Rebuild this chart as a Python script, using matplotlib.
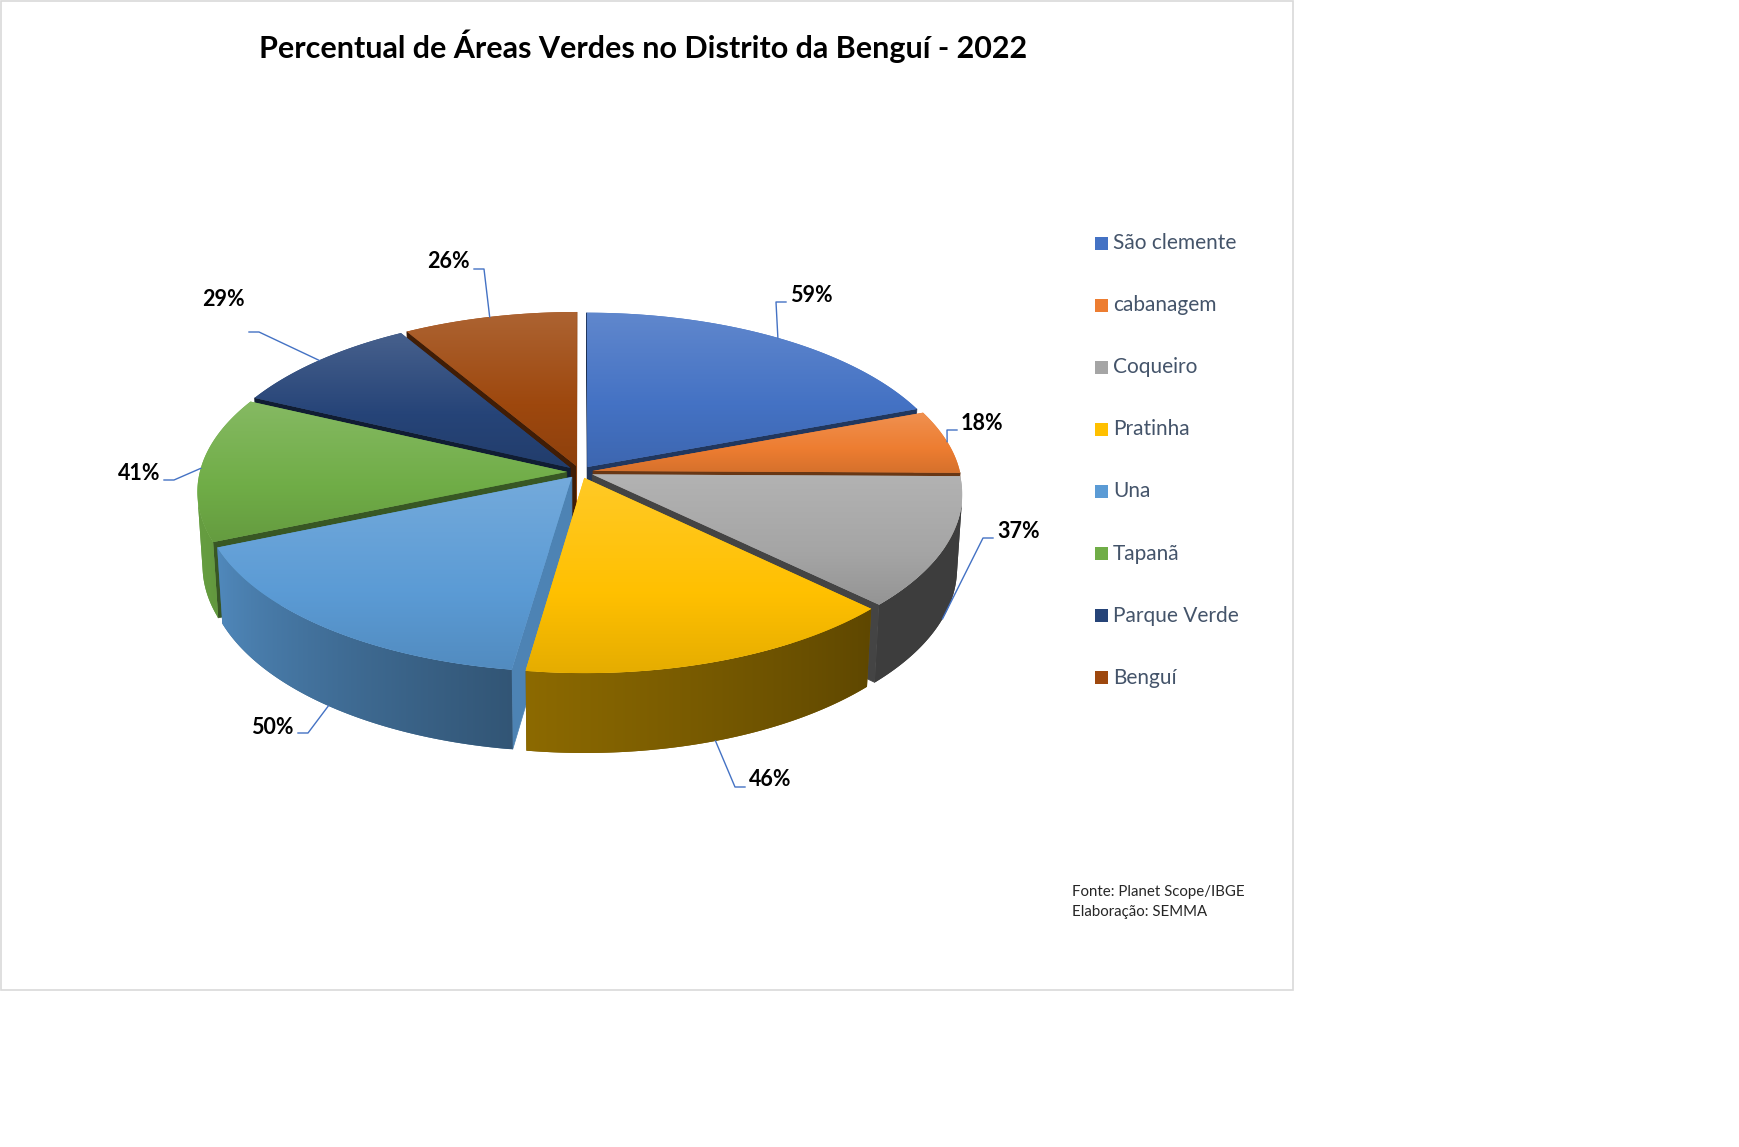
import numpy as np
import matplotlib.pyplot as plt
from matplotlib.patches import Polygon, Rectangle
from matplotlib.colors import to_rgb

plt.rcParams['font.family'] = ['Lato', 'DejaVu Sans']

titulo = 'Percentual de Áreas Verdes no Distrito da Benguí - 2022'
bairros = ['São clemente', 'cabanagem', 'Coqueiro', 'Pratinha', 'Una', 'Tapanã', 'Parque Verde', 'Benguí']
percentual = [59, 18, 37, 46, 50, 41, 29, 26]
cores = ['#4472C4', '#ED7D31', '#A5A5A5', '#FFC000', '#5B9BD5', '#70AD47', '#264478', '#9E480E']
fonte = ['Fonte: Planet Scope/IBGE', 'Elaboração: SEMMA']

# onde fica cada rotulo (px) e a altura da linha guia em relacao a ele
rotulo_xy = [(790, 295), (961, 423), (997, 532), (749, 780), (294, 727), (160, 473), (245, 300), (470, 262)]
guia_dy = [7, 7, 6, 7, 6, 7, 32, 7]

W, H = 1740, 1147
CX, CY = 580, 472
ALFA = np.radians(28)
DIST = 8.0
FOCO = 367 * DIST
ESP = 0.23
EXPL = 0.036
cam = np.array([0.0, DIST * np.sin(ALFA), -DIST * np.cos(ALFA)])


def proj(X, Y, Z):
    X = np.asarray(X, float)
    Y = np.asarray(Y, float)
    Z = np.asarray(Z, float)
    prof = DIST - Y * np.sin(ALFA) + Z * np.cos(ALFA)
    return CX + FOCO * X / prof, CY - FOCO * (Y * np.cos(ALFA) + Z * np.sin(ALFA)) / prof


def tom(cor, f):
    c = np.array(to_rgb(cor))
    if f >= 1:
        return np.clip(c + (1 - c) * (f - 1), 0, 1)
    return c * f


def sombra_lado(th):
    th = (th + 180) % 360 - 180
    return np.interp(th, [-180, -160, -98, -44, 0], [0.92, 0.9, 0.55, 0.37, 0.37])


def pinta(poly, img, ext, z):
    ax.add_patch(poly)
    im = ax.imshow(img, extent=ext, aspect='auto', interpolation='bilinear', zorder=z)
    im.set_clip_path(poly)


fig = plt.figure(figsize=(W / 100, H / 100), dpi=100)
ax = fig.add_axes([0, 0, 1, 1])
ax.axis('off')

ax.add_patch(Rectangle((1, 1), 1292, 989, fill=False, ec='#D9D9D9', lw=1.2, zorder=1))

total = sum(percentual)
limites = 90 - 360 * np.concatenate([[0], np.cumsum(percentual)]) / total
meios = np.radians((limites[:-1] + limites[1:]) / 2)

ordem = sorted(range(len(percentual)), key=lambda i: -np.sin(meios[i]))

for k, i in enumerate(ordem):
    z = 2 + k
    cor = cores[i]
    a0, a1 = limites[i], limites[i + 1]
    ox, oz = EXPL * np.cos(meios[i]), EXPL * np.sin(meios[i])
    th = np.radians(np.linspace(a0, a1, int(abs(a1 - a0) * 2) + 2))

    # faces de corte
    for ang, sinal in [(a0, 1), (a1, -1)]:
        r = np.radians(ang)
        n = r + sinal * np.pi / 2
        P = np.array([ox + 0.5 * np.cos(r), -ESP / 2, oz + 0.5 * np.sin(r)])
        nv = np.array([np.cos(n), 0, np.sin(n)])
        if nv @ (cam - P) <= 0:
            continue
        X = [ox, ox + np.cos(r), ox + np.cos(r), ox]
        Z = [oz, oz + np.sin(r), oz + np.sin(r), oz]
        px, py = proj(X, [0, 0, -ESP, -ESP], Z)
        s = np.interp(np.cos(n), [-1, 0.3, 0.9, 1], [0.4, 0.45, 0.8, 0.85])
        ax.add_patch(Polygon(np.c_[px, py], closed=True, fc=tom(cor, s), ec=tom(cor, s), lw=0.5, zorder=z))

    # parede externa (degrade horizontal)
    vis = np.array([np.cos(t) * (cam[0] - ox - np.cos(t)) + np.sin(t) * (cam[2] - oz - np.sin(t)) > 0 for t in th])
    if vis.sum() > 1:
        tv = th[vis]
        tx, ty = proj(ox + np.cos(tv), np.zeros(len(tv)), oz + np.sin(tv))
        bx, by = proj(ox + np.cos(tv), np.full(len(tv), -ESP), oz + np.sin(tv))
        ext = (min(tx.min(), bx.min()), max(tx.max(), bx.max()), max(ty.max(), by.max()), min(ty.min(), by.min()))
        srt = np.argsort(tx)
        xs = np.linspace(ext[0], ext[1], 256)
        sh = np.interp(xs, tx[srt], sombra_lado(np.degrees(tv[srt])))
        img = np.array([tom(cor, s) for s in sh])[None, :, :]
        parede = Polygon(np.r_[np.c_[tx, ty], np.c_[bx, by][::-1]], closed=True,
                         fc=tom(cor, sh.mean()), ec='none', zorder=z + 0.1)
        pinta(parede, img, ext, z + 0.15)

    # tampa com degrade vertical
    px, py = proj(np.r_[ox, ox + np.cos(th)], np.zeros(len(th) + 1), np.r_[oz, oz + np.sin(th)])
    tampa = Polygon(np.c_[px, py], closed=True, fc=cor, ec='none', zorder=z + 0.2)
    grad = np.array([tom(cor, f) for f in np.linspace(1.15, 0.9, 64)])[:, None, :]
    pinta(tampa, grad, (px.min(), px.max(), py.max(), py.min()), z + 0.3)

# rotulos com linha guia
for i in range(len(percentual)):
    ox, oz = EXPL * np.cos(meios[i]), EXPL * np.sin(meios[i])
    y0 = -ESP if np.sin(meios[i]) < 0 else 0.0
    sx, sy = proj(ox + np.cos(meios[i]), y0, oz + np.sin(meios[i]))
    lx, ly = rotulo_xy[i]
    sg = 1 if lx > sx else -1
    ky = ly + guia_dy[i]
    ax.plot([sx, lx - sg * 14, lx - sg * 4], [sy, ky, ky], color='#4472C4', lw=1.0, zorder=50)
    ax.text(lx, ly, f'{percentual[i]}%', ha='left' if sg > 0 else 'right', va='center',
            fontsize=15.5, fontweight='bold', color='black', zorder=51)

ax.text(643, 46, titulo, ha='center', va='center', fontsize=22, fontweight='bold', color='black')

# legenda
for i, nome in enumerate(bairros):
    yy = 243 + i * 62.1
    ax.add_patch(Rectangle((1095, yy - 6.5), 13, 13, fc=cores[i], ec='none'))
    ax.text(1113, yy, nome, ha='left', va='center', fontsize=15, color='#44546A')

for j, linha in enumerate(fonte):
    ax.text(1072, 892 + j * 20, linha, ha='left', va='center', fontsize=10.8, color='#262626')

ax.set_xlim(0, W)
ax.set_ylim(H, 0)
fig.savefig('out.png', dpi=100, facecolor='white')
